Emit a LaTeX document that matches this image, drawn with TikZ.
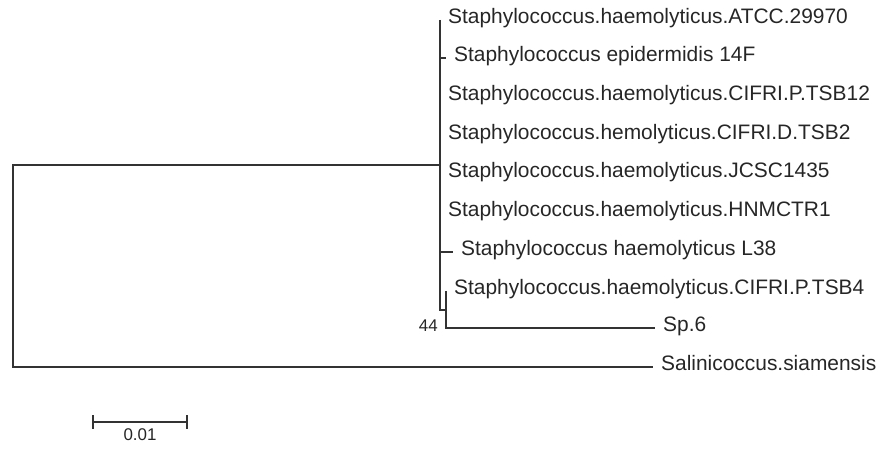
\documentclass[tikz,border=0pt]{standalone}
\usepackage{fontspec}
\setmainfont{Liberation Sans}
\usetikzlibrary{positioning}
\usetikzlibrary{calc}
\tikzset{
  branch/.style={draw=black!80, line width=1.5bp},
  taxon/.style={anchor=west, inner sep=0pt, text height=0.72em, text depth=0pt,
    font=\fontsize{21}{21}\selectfont, text=black!85},
  small/.style={inner sep=0pt, text height=0.72em, text depth=0pt,
    font=\fontsize{17}{17}\selectfont, text=black!85}
}

\begin{document}
\begin{tikzpicture}[x=1bp, y=-1bp]
\useasboundingbox (0,0) rectangle (884,450);

% inner nodes
\coordinate (R) at (13,165);
\coordinate (A) at (440,165);
\coordinate (B) at (446,310);
\coordinate (s6) at (446,328);

% tips
\coordinate (t1) at (440,20);
\coordinate (t2) at (446,58);
\coordinate (t3) at (440,97);
\coordinate (t4) at (440,136);
\coordinate (t5) at (440,174);
\coordinate (t6) at (440,213);
\coordinate (t7) at (453,252);
\coordinate (t8) at (446,291);
\coordinate (t9) at (655,328);
\coordinate (t10) at (653,367);

%%% taxa
\node[taxon, right=8bp of t1] (l1) {Staphylococcus.haemolyticus.ATCC.29970};
\node[taxon, right=8bp of t2] (l2) {Staphylococcus epidermidis 14F};
\node[taxon, right=8bp of t3] (l3) {Staphylococcus.haemolyticus.CIFRI.P.TSB12};
\node[taxon, right=8bp of t4] (l4) {Staphylococcus.hemolyticus.CIFRI.D.TSB2};
\node[taxon, right=8bp of t5] (l5) {Staphylococcus.haemolyticus.JCSC1435};
\node[taxon, right=8bp of t6] (l6) {Staphylococcus.haemolyticus.HNMCTR1};
\node[taxon, right=8bp of t7] (l7) {Staphylococcus haemolyticus L38};
\node[taxon, right=8bp of t8] (l8) {Staphylococcus.haemolyticus.CIFRI.P.TSB4};
\node[taxon, right=8bp of t9] (l9) {Sp.6};
\node[taxon, right=8bp of t10] (l10) {Salinicoccus.siamensis};

%%% branches
\draw[branch] (t1) -- (A |- B) -- (B);
\draw[branch] (A |- t2) -- (t2);
\draw[branch] (A |- t7) -- (t7);
\draw[branch] (t8) -- (s6) -- (t9);
\draw[branch] (A) -- (R) -- (R |- t10) -- (t10);

% bootstrap
\node[small, anchor=east, left=8bp of s6] (bs) {44};

% scale bar
\coordinate (sb1) at (93,422);
\coordinate (sb2) at (187,422);
\draw[branch] (sb1) -- (sb2);
\draw[branch] ($ (sb1) + (0,-7) $) -- ($ (sb1) + (0,7) $);
\draw[branch] ($ (sb2) + (0,-7) $) -- ($ (sb2) + (0,7) $);
\node[small, anchor=north] (sbl) at ($ (sb1)!0.5!(sb2) + (0,11) $) {0.01};

\end{tikzpicture}
\end{document}
